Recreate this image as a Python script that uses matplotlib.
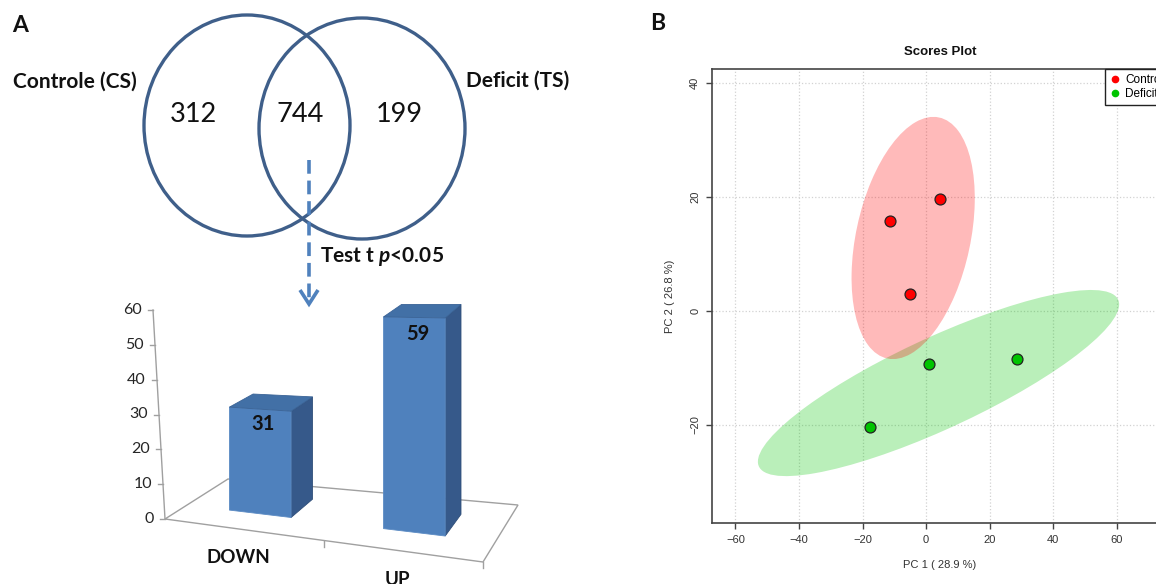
import numpy as np
import matplotlib
matplotlib.use('Agg')
import matplotlib.pyplot as plt
from matplotlib.patches import Ellipse, Polygon
from matplotlib.lines import Line2D

# ---------------- data ----------------
venn_sets = ['Controle (CS)', 'Deficit (TS)']
venn_counts = [312, 744, 199]          # only CS, both, only TS
test_text = 'Test t $p$<0.05'

bar_categories = ['DOWN', 'UP']
bar_values = [31, 59]
bar_yticks = [0, 10, 20, 30, 40, 50, 60]

groups = ['Control', 'Deficit']
pc1_control = [-11.4, 4.35, -5.1]
pc2_control = [15.8, 19.6, 3.0]
pc1_deficit = [-17.7, 1.0, 28.5]
pc2_deficit = [-20.4, -9.3, -8.4]
x_ticks = [-60, -40, -20, 0, 20, 40, 60]
y_ticks = [-20, 0, 20, 40]
x_label = 'PC 1 ( 28.9 %)'
y_label = 'PC 2 ( 26.8 %)'
plot_title = 'Scores Plot'

# ---------------- figure ----------------
W, H = 1156, 584
plt.rcParams['mathtext.fontset'] = 'custom'
plt.rcParams['mathtext.it'] = 'Lato:italic:bold'
plt.rcParams['mathtext.rm'] = 'Lato:bold'
fig = plt.figure(figsize=(W / 100, H / 100), dpi=100)
fig.patch.set_facecolor('white')

# overlay axes in pixel coordinates for panel A
ax0 = fig.add_axes([0, 0, 1, 1])
ax0.set_xlim(0, W)
ax0.set_ylim(H, 0)
ax0.axis('off')

FA = 'Lato'
venn_col = '#3F5F8A'

# Venn diagram
ax0.add_patch(Ellipse((247, 125.5), 206, 221, fill=False, lw=2.4, ec=venn_col))
ax0.add_patch(Ellipse((362, 128.5), 206, 221, fill=False, lw=2.4, ec=venn_col))
ax0.text(75, 82, venn_sets[0], family=FA, weight='bold', fontsize=15,
         ha='center', va='center', color='#111111')
ax0.text(518, 81, venn_sets[1], family=FA, weight='bold', fontsize=15,
         ha='center', va='center', color='#111111')
for xc, n in zip([193, 300, 399], venn_counts):
    ax0.text(xc, 115, str(n), family=FA, fontsize=19.5, ha='center', va='center',
             color='#111111')

# dashed arrow
arrow_col = '#4F81BD'
ax0.plot([309, 309], [160, 301], color=arrow_col, lw=2.6, ls=(0, (3.8, 1.9)),
         solid_capstyle='butt', dash_capstyle='butt')
ax0.plot([300, 309, 318], [290, 304, 290], color=arrow_col, lw=2.6,
         solid_joinstyle='miter', solid_capstyle='butt')
ax0.text(320, 256, test_text, family=FA, weight='bold', fontsize=15,
         ha='left', va='center', color='#111111')

# ---------------- 3D-like bar chart ----------------
FL = (165, 519); FR = (483, 562); BL = (228, 479); BR = (518, 505)
ncat = len(bar_categories)


def floor_pt(u, d):
    s = u / ncat
    x = (1 - s) * (1 - d) * FL[0] + s * (1 - d) * FR[0] + (1 - s) * d * BL[0] + s * d * BR[0]
    y = (1 - s) * (1 - d) * FL[1] + s * (1 - d) * FR[1] + (1 - s) * d * BL[1] + s * d * BR[1]
    return x, y


def proj(u, d, v):
    x, y = floor_pt(u, d)
    k = (3.248 + 0.267 * u) * (1 - 0.093 * (d - 0.35))
    return (x, y - v * k)


grid_col = '#A0A0A0'
ax0.add_patch(Polygon([FL, FR, BR, BL], closed=True, fill=False, ec=grid_col, lw=1.0))
for i in range(1, ncat + 1):
    x, y = floor_pt(i, 0)
    ax0.plot([x, x], [y, y + 6], color=grid_col, lw=1.0)

# value axis (slanted)
vmax = bar_yticks[-1]
top_ax = (153, 310)
bot_ax = (165, 519)


def axis_pt(v):
    t = v / vmax
    return (bot_ax[0] + (top_ax[0] - bot_ax[0]) * t, bot_ax[1] + (top_ax[1] - bot_ax[1]) * t)


ax0.plot([bot_ax[0], top_ax[0]], [bot_ax[1], top_ax[1]], color=grid_col, lw=1.0)
for v in bar_yticks:
    x, y = axis_pt(v)
    ax0.plot([x - 5, x], [y, y], color=grid_col, lw=1.0)
    ax0.text(x - 11, y, str(v), family=FA, fontsize=11.5, ha='right', va='center',
             color='#262626')

front_c = '#4F81BD'
side_c = '#36598A'
top_c = '#4270A6'
d0, d1, bw = 0.35, 0.75, 0.40
for i, (cat, val) in enumerate(zip(bar_categories, bar_values)):
    c = i + 0.5 - 0.025
    u0, u1 = c - bw / 2, c + bw / 2
    side = [proj(u1, d0, 0), proj(u1, d1, 0), proj(u1, d1, val), proj(u1, d0, val)]
    front = [proj(u0, d0, 0), proj(u1, d0, 0), proj(u1, d0, val), proj(u0, d0, val)]
    top = [proj(u0, d0, val), proj(u1, d0, val), proj(u1, d1, val), proj(u0, d1, val)]
    ax0.add_patch(Polygon(side, closed=True, fc=side_c, ec='#2E4D78', lw=0.6))
    ax0.add_patch(Polygon(front, closed=True, fc=front_c, ec='#5B8BC4', lw=0.6))
    ax0.add_patch(Polygon(top, closed=True, fc=top_c, ec='#3A6396', lw=0.6))
    lx, ly = proj(c, d0, val - 4.5)
    ax0.text(lx + 3, ly, str(val), family=FA, weight='bold', fontsize=14.5,
             ha='center', va='center', color='#111111')
    fx, fy = floor_pt(i + 0.5, 0)
    ax0.text(fx - 6, fy + 28, cat, family=FA, weight='bold', fontsize=13.5,
             ha='center', va='center', color='#111111')

# panel letters
fig.text(20 / W, 1 - 26 / H, 'A', family=FA, weight='bold', fontsize=16.5,
         ha='center', va='center', color='#111111')
fig.text(658 / W, 1 - 24 / H, 'B', family=FA, weight='bold', fontsize=16.5,
         ha='center', va='center', color='#111111')

# ---------------- scores plot ----------------
FB = 'Liberation Sans'
L, R, T, B = 712, 1168, 69, 523
axs = fig.add_axes([L / W, 1 - B / H, (R - L) / W, (B - T) / H])
axs.set_xlim(-67.4, 76.2)
axs.set_ylim(-37.3, 42.5)
axs.set_xticks(x_ticks)
axs.set_yticks(y_ticks)
axs.grid(True, ls=':', color='#D2D2D2', lw=0.9)
axs.set_axisbelow(True)

red, green = '#FF0000', '#00C400'
chi_scale = np.sqrt(-2 * np.log(1 - 0.95))


def conf_ellipse(xs, ys, color):
    xs = np.asarray(xs); ys = np.asarray(ys)
    cov = np.cov(xs, ys)
    vals, vecs = np.linalg.eigh(cov)
    order = vals.argsort()[::-1]
    vals, vecs = vals[order], vecs[:, order]
    ang = np.degrees(np.arctan2(vecs[1, 0], vecs[0, 0]))
    w, h = 2 * chi_scale * np.sqrt(vals)
    axs.add_patch(Ellipse((xs.mean(), ys.mean()), w, h, angle=ang,
                          fc=color, ec='none', alpha=0.27, zorder=2))


conf_ellipse(pc1_deficit, pc2_deficit, green)
conf_ellipse(pc1_control, pc2_control, red)
axs.scatter(pc1_control, pc2_control, s=62, c=red, edgecolors='#222222', lw=0.9, zorder=4)
axs.scatter(pc1_deficit, pc2_deficit, s=62, c=green, edgecolors='#222222', lw=0.9, zorder=4)

for sp in axs.spines.values():
    sp.set_color('#444444')
    sp.set_linewidth(1.2)
axs.tick_params(direction='out', length=4.5, width=1, color='#444444',
                labelsize=8, labelcolor='#333333', pad=4)
for lab in axs.get_xticklabels() + axs.get_yticklabels():
    lab.set_family(FB)
for lab in axs.get_yticklabels():
    lab.set_rotation(90)
    lab.set_va('center')
axs.set_xlabel(x_label, family=FB, fontsize=8, color='#333333', labelpad=11)
axs.set_ylabel(y_label, family=FB, fontsize=8, color='#333333', labelpad=11)
axs.set_title(plot_title, family=FB, fontsize=9.5, weight='bold', color='#111111', pad=10)

handles = [Line2D([], [], marker='o', ls='none', color=red, markersize=4.5),
           Line2D([], [], marker='o', ls='none', color=green, markersize=4.5)]
leg = axs.legend(handles, groups, loc='upper right', borderaxespad=0, fancybox=False,
                 framealpha=1, edgecolor='#222222', prop={'family': FB, 'size': 8.5},
                 handlelength=0.8, handletextpad=0.5, borderpad=0.4, labelspacing=0.2)
leg.get_frame().set_linewidth(1.0)

fig.savefig('out.png', dpi=100, facecolor='white')
